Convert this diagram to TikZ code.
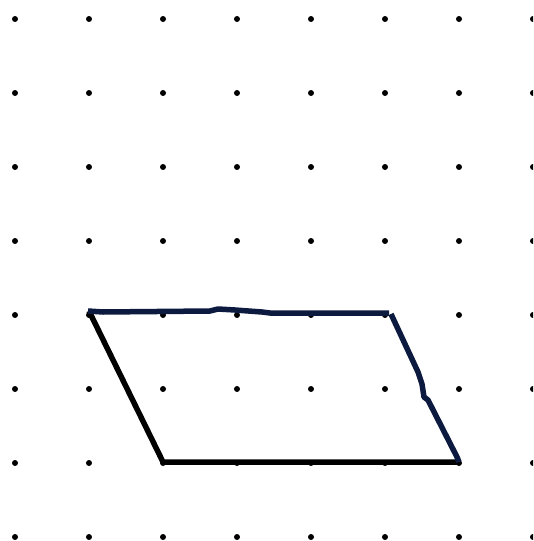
\documentclass[tikz,border=0pt]{standalone}
\definecolor{navy}{RGB}{12,26,64}
\begin{document}
\begin{tikzpicture}[x=1pt,y=-1pt,
  griddot/.style={fill=black},
  blackedge/.style={draw=black,line width=5.5pt,line cap=butt,line join=round},
  navyedge/.style={draw=navy,line width=5.5pt,line cap=butt,line join=round}]
\useasboundingbox (0,0) rectangle (533,541);
\clip (0,0) rectangle (533,541);
\foreach \i in {0,...,7}{
  \foreach \j in {0,...,7}{
    \fill[griddot] (15+74*\i,19+74*\j) circle (3);
  }
}
\coordinate (A) at (89,311);
\coordinate (B) at (389,313);
\coordinate (C) at (459,462);
\coordinate (D) at (163,462);
\draw[blackedge] (A) -- (D) -- (C);
\draw[navyedge] (88,311) -- (103,312) -- (210,311) -- (218,309) -- (235,310) -- (262,312) -- (270,313) -- (B);
\draw[navyedge] (391,314) -- (418,372) -- (422,384) -- (424,397) -- (428,400) -- (457,457) -- (C);
\end{tikzpicture}
\end{document}
